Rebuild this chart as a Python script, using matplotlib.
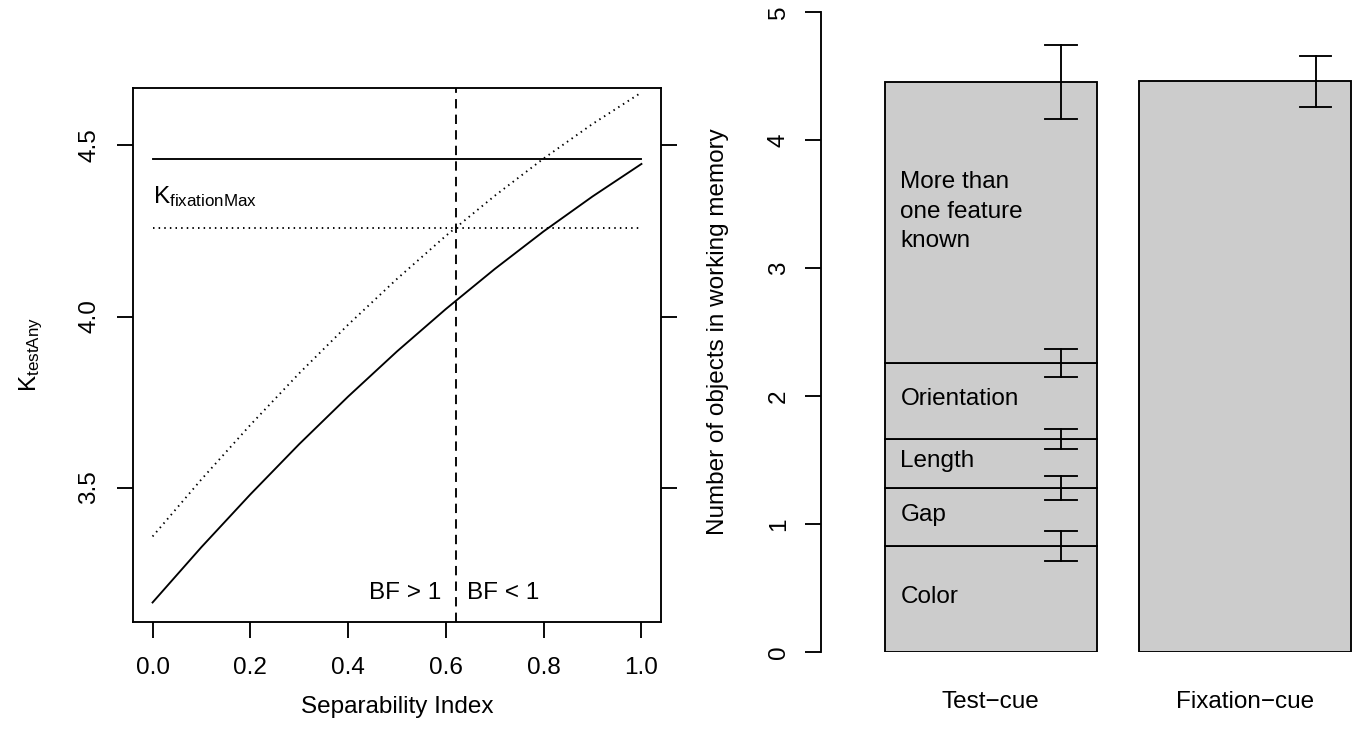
import matplotlib
matplotlib.use("Agg")
import matplotlib.pyplot as plt
import numpy as np

# ---------------- data ----------------
sep_index = [0.0, 0.1, 0.2, 0.3, 0.4, 0.5, 0.6, 0.7, 0.8, 0.9, 1.0]
k_test_any = [3.164, 3.326, 3.480, 3.627, 3.766, 3.898, 4.022, 4.139, 4.249, 4.351, 4.446]
k_test_any_upper = [3.357, 3.524, 3.683, 3.834, 3.976, 4.110, 4.236, 4.353, 4.462, 4.563, 4.655]
k_fixation_max = 4.46
k_fixation_lower = 4.26
bf_threshold = 0.62
x_ticks = [0.0, 0.2, 0.4, 0.6, 0.8, 1.0]
y_ticks_left = [3.5, 4.0, 4.5]

conditions = ["Test\u2212cue", "Fixation\u2212cue"]
segment_names = ["Color", "Gap", "Length", "Orientation", "More than\none feature\nknown"]
segment_heights = [0.828, 0.453, 0.383, 0.594, 2.195]
segment_errors = [0.12, 0.095, 0.08, 0.11, 0.29]
fixation_total = 4.46
fixation_error = 0.20
y_ticks_right = [0, 1, 2, 3, 4, 5]

# ---------------- layout / style ----------------
plt.rcParams["font.family"] = ["Liberation Sans", "DejaVu Sans"]
plt.rcParams["mathtext.fontset"] = "custom"
plt.rcParams["mathtext.rm"] = "Liberation Sans"
plt.rcParams["mathtext.it"] = "Liberation Sans"
FS = 17.5
LW = 1.35
W, H = 1360, 750
fig = plt.figure(figsize=(W / 100, H / 100), dpi=100)

def pos(x0, y0, x1, y1):
    return [x0 / W, 1 - y1 / H, (x1 - x0) / W, (y1 - y0) / H]

DOT = (0, (0.8, 2.2))
DASH = (0, (5, 3.3))

# ---------- left panel ----------
ax = fig.add_axes(pos(133, 88, 661, 622))
ax.set_xlim(-0.04, 1.04)
ax.set_ylim(3.107, 4.668)
ax.plot(sep_index, k_test_any, color="black", lw=LW)
ax.plot(sep_index, k_test_any_upper, color="black", lw=LW, linestyle=DOT)
ax.plot([sep_index[0], sep_index[-1]], [k_fixation_max, k_fixation_max], color="black", lw=LW)
ax.plot([sep_index[0], sep_index[-1]], [k_fixation_lower, k_fixation_lower], color="black",
        lw=LW, linestyle=DOT)
ax.axvline(bf_threshold, color="black", lw=LW, linestyle=DASH)
ax.text(sep_index[0], 4.332, r"$\mathrm{K_{fixationMax}}$", fontsize=FS, ha="left", va="baseline")
ax.annotate("BF > 1", (bf_threshold, 3.174), xytext=(-10.5, 0), textcoords="offset points",
            ha="right", va="baseline", fontsize=FS)
ax.annotate("BF < 1", (bf_threshold, 3.174), xytext=(8.5, 0), textcoords="offset points",
            ha="left", va="baseline", fontsize=FS)
for s in ax.spines.values():
    s.set_linewidth(LW)
ax.set_xticks(x_ticks)
ax.set_xticklabels([f"{v:.1f}" for v in x_ticks])
ax.set_yticks(y_ticks_left)
ax.set_yticklabels([f"{v:.1f}" for v in y_ticks_left], rotation=90, va="center")
ax.tick_params(axis="both", direction="out", length=11.5, width=LW, labelsize=FS)
ax.tick_params(axis="x", pad=14)
ax.tick_params(axis="y", pad=12, right=True, labelright=False)
ax.set_xlabel("Separability Index", fontsize=FS, labelpad=12)
ax.set_ylabel(r"$\mathrm{K_{testAny}}$", fontsize=FS, labelpad=24)

# ---------- right panel ----------
px_per_unit = 212.0
ax2 = fig.add_axes(pos(821, 12, 821 + 2.7 * px_per_unit, 652))
ax2.set_xlim(-0.1, 2.6)
ax2.set_ylim(0, 5)
bar_width = 1.0
bar_left = [0.2, 1.4]
gray = "#cccccc"
bottom = 0.0
tops = []
for h in segment_heights:
    ax2.bar(bar_left[0], h, width=bar_width, bottom=bottom, align="edge", color=gray,
            edgecolor="black", linewidth=LW, zorder=2)
    bottom += h
    tops.append(bottom)
ax2.bar(bar_left[1], fixation_total, width=bar_width, bottom=0, align="edge", color=gray,
        edgecolor="black", linewidth=LW, zorder=2)

err_off = 0.833
cap = 0.075
def errbar(x, y, e):
    ax2.plot([x, x], [y - e, y + e], color="black", lw=LW, zorder=3)
    for yy in (y - e, y + e):
        ax2.plot([x - cap, x + cap], [yy, yy], color="black", lw=LW, zorder=3)

for t, e in zip(tops, segment_errors):
    errbar(bar_left[0] + err_off, t, e)
errbar(bar_left[1] + err_off, fixation_total, fixation_error)

label_y = [0.43, 1.07, 1.49, 1.98, 3.44]
for name, ly in zip(segment_names, label_y):
    ax2.text(bar_left[0] + 0.075, ly, name, fontsize=FS, ha="left", va="center",
             linespacing=1.43, zorder=4)

for xl, name in zip(bar_left, conditions):
    ax2.text(xl + bar_width / 2, -0.388, name, fontsize=FS, ha="center", va="center",
             clip_on=False)

for k in ("top", "right", "bottom"):
    ax2.spines[k].set_visible(False)
ax2.spines["left"].set_linewidth(LW)
ax2.spines["left"].set_bounds(0, 5)
ax2.set_xticks([])
ax2.set_yticks(y_ticks_right)
ax2.set_yticklabels([str(v) for v in y_ticks_right], rotation=90, va="center")
ax2.tick_params(axis="y", direction="out", length=11.5, width=LW, labelsize=FS, pad=11)
ax2.set_ylabel("Number of objects in working memory", fontsize=FS, labelpad=28)

fig.savefig("out.png", dpi=100)
